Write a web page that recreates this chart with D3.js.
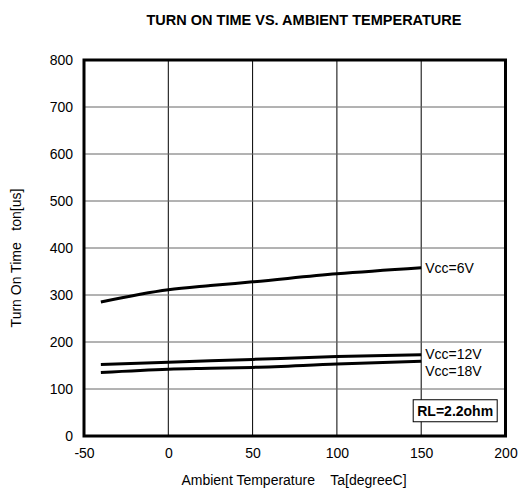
<!DOCTYPE html>
<html>
<head>
<meta charset="utf-8">
<script src="https://cdn.jsdelivr.net/npm/d3@7"></script>
<style>
  body { margin: 0; background: #fff; }
  text { font-family: "Liberation Sans", Arial, sans-serif; fill: #000; }
</style>
</head>
<body>
<div id="chart"></div>
<script>
// values
var temps = [-40, 0, 25, 50, 100, 150];
var vcc6 = [285, 311, 320, 328, 345, 358];
var vcc12 = [152, 157, 160, 163, 169, 173];
var vcc18 = [135, 142, 144, 146, 153, 159];
var seriesNames = ["Vcc=6V", "Vcc=12V", "Vcc=18V"];
var xTicks = [-50, 0, 50, 100, 150, 200];
var yTicks = [0, 100, 200, 300, 400, 500, 600, 700, 800];

var W = 518, H = 490;
var margin = {top: 60, right: 12.5, bottom: 54, left: 84};
var width = W - margin.left - margin.right;
var height = H - margin.top - margin.bottom;
var fs = "14px";

var svg = d3.select("#chart").append("svg")
    .attr("width", W)
    .attr("height", H);

var g = svg.append("g")
    .attr("transform", "translate(" + margin.left + "," + margin.top + ")");

var x = d3.scaleLinear().domain([-50, 200]).range([0, width]);
var y = d3.scaleLinear().domain([0, 800]).range([height, 0]);

//grid lines
g.selectAll(".vgrid")
    .data(xTicks.slice(1, -1))
    .enter().append("line")
    .attr("x1", function (d) { return x(d); })
    .attr("x2", function (d) { return x(d); })
    .attr("y1", 0)
    .attr("y2", height)
    .attr("stroke", "#000")
    .attr("stroke-width", 1);

g.selectAll(".hgrid")
    .data(yTicks.slice(1, -1))
    .enter().append("line")
    .attr("x1", 0)
    .attr("x2", width)
    .attr("y1", function (d) { return y(d); })
    .attr("y2", function (d) { return y(d); })
    .attr("stroke", "#666")
    .attr("stroke-width", 1);

//axes, tick labels only (plain hyphen for negatives)
var fmt = function (d) { return String(d); };
var xAxis = g.append("g")
    .attr("transform", "translate(0," + height + ")")
    .call(d3.axisBottom(x).tickValues(xTicks).tickFormat(fmt).tickSize(0).tickPadding(12));
var yAxis = g.append("g")
    .call(d3.axisLeft(y).tickValues(yTicks).tickFormat(fmt).tickSize(0).tickPadding(11));
[xAxis, yAxis].forEach(function (a) {
    a.select(".domain").remove();
    a.selectAll("text")
        .style("font-family", "'Liberation Sans', Arial, sans-serif")
        .style("font-size", fs)
        .attr("fill", "#000");
});

//frame
g.append("rect")
    .attr("width", width)
    .attr("height", height)
    .attr("fill", "none")
    .attr("stroke", "#000")
    .attr("stroke-width", 3);

//curves
var line = d3.line()
    .x(function (d) { return x(d[0]); })
    .y(function (d) { return y(d[1]); })
    .curve(d3.curveMonotoneX);

var series = [vcc6, vcc12, vcc18];
series.forEach(function (vals) {
    g.append("path")
        .datum(temps.map(function (t, i) { return [t, vals[i]]; }))
        .attr("fill", "none")
        .attr("stroke", "#000")
        .attr("stroke-width", 3)
        .attr("d", line);
});

//series labels
var labelY = [vcc6[5], 175, 139];
seriesNames.forEach(function (name, i) {
    g.append("text")
        .attr("x", x(150) + 4)
        .attr("y", y(labelY[i]) + 5)
        .style("font-size", fs)
        .text(name);
});

//RL box
var box = g.append("g")
    .attr("transform", "translate(" + (x(150) - 8) + "," + (y(75) - 1) + ")");
box.append("rect")
    .attr("width", 84)
    .attr("height", 22)
    .attr("fill", "#fff")
    .attr("stroke", "#000")
    .attr("stroke-width", 1);
box.append("text")
    .attr("x", 42)
    .attr("y", 16)
    .attr("text-anchor", "middle")
    .style("font-size", fs)
    .style("font-weight", "bold")
    .text("RL=2.2ohm");

//titles
svg.append("text")
    .attr("x", 304)
    .attr("y", 25)
    .attr("text-anchor", "middle")
    .style("font-size", "14.5px")
    .style("font-weight", "bold")
    .text("TURN ON TIME VS. AMBIENT TEMPERATURE");

svg.append("text")
    .attr("x", 294)
    .attr("y", 485)
    .attr("text-anchor", "middle")
    .style("font-size", fs)
    .attr("xml:space", "preserve")
    .text("Ambient Temperature    Ta[degreeC]");

svg.append("text")
    .attr("transform", "translate(21,258) rotate(-90)")
    .attr("text-anchor", "middle")
    .style("font-size", fs)
    .attr("xml:space", "preserve")
    .text("Turn On Time   ton[us]");
</script>
</body>
</html>
